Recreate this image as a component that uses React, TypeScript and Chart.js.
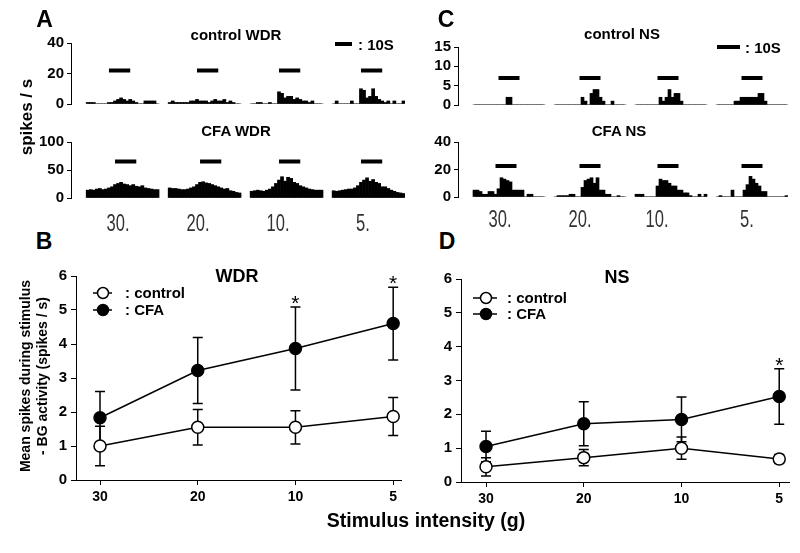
import React, { useEffect, useRef } from 'react';
import { Chart, registerables } from 'chart.js';

Chart.register(...registerables);

const FONT = "'Liberation Sans', Arial, Helvetica, sans-serif";

// ---------------- data ----------------
const intensities = ['30', '20', '10', '5'];
const stimulusLabels = ['30.', '20.', '10.', '5.'];

const HIST_LEAD = 5;
const HIST_GAP = 3;
const STIM_LEN = 7;

// peri-stimulus histograms (spikes / s), one array per stimulus intensity
const controlWdrHist = [
  [1, 1, 1, 0, 0, 0, 0, 1, 1, 2, 3, 4, 3, 2, 3, 2, 1, 0, 0, 2, 2, 2, 2, 0],
  [1, 2, 1, 1, 1, 1, 1, 2, 2, 3, 2, 2, 2, 1, 2, 3, 2, 2, 3, 1, 2, 1, 0, 0],
  [0, 0, 1, 1, 0, 0, 1, 0, 0, 8, 7, 4, 5, 5, 3, 4, 3, 2, 2, 1, 2, 0, 0, 0],
  [0, 2, 0, 0, 0, 0, 2, 0, 0, 10, 9, 4, 5, 10, 5, 3, 2, 1, 2, 0, 2, 0, 0, 2],
];
const cfaWdrHist = [
  [14, 15, 14, 16, 17, 15, 16, 18, 20, 24, 26, 28, 25, 24, 22, 24, 21, 20, 22, 18, 17, 16, 15, 15],
  [18, 17, 17, 16, 15, 15, 16, 18, 20, 24, 28, 29, 27, 26, 24, 22, 20, 18, 16, 17, 13, 12, 10, 9],
  [12, 13, 14, 13, 12, 14, 16, 20, 26, 32, 38, 30, 37, 35, 28, 26, 22, 20, 18, 16, 15, 14, 14, 14],
  [13, 12, 13, 14, 15, 16, 16, 18, 22, 28, 32, 36, 30, 33, 28, 26, 20, 20, 17, 14, 12, 10, 9, 8],
];
const controlNsHist = [
  [0, 0, 0, 0, 0, 0, 0, 0, 0, 0, 0, 2, 2, 0, 0, 0, 0, 0, 0, 0, 0, 0, 0, 0],
  [0, 0, 0, 0, 0, 0, 0, 0, 0, 2, 1, 0, 3, 4, 4, 2, 1, 0, 0, 1, 0, 0, 0, 0],
  [0, 0, 0, 0, 0, 0, 0, 0, 2, 1, 2, 4, 2, 3, 3, 1, 0, 0, 0, 0, 0, 0, 0, 0],
  [0, 0, 0, 0, 0, 0, 1, 1, 2, 2, 2, 2, 2, 2, 3, 3, 1, 0, 0, 0, 0, 0, 0, 0],
];
const cfaNsHist = [
  [5, 5, 4, 2, 2, 4, 4, 2, 6, 14, 13, 12, 11, 5, 5, 5, 5, 0, 2, 2, 0, 0, 0, 0],
  [0, 1, 1, 1, 1, 2, 2, 0, 0, 7, 12, 13, 14, 10, 14, 5, 5, 2, 2, 0, 0, 1, 0, 0],
  [2, 2, 2, 0, 0, 0, 0, 8, 13, 12, 12, 10, 8, 8, 5, 5, 3, 3, 1, 0, 0, 2, 0, 2],
  [0, 1, 0, 0, 0, 5, 0, 0, 0, 5, 9, 15, 13, 10, 8, 4, 4, 0, 0, 0, 0, 0, 0, 1],
];

// stimulus onset bin within each sweep, and the level where the stimulus bar is drawn
const controlWdrStimOnset = [7, 9, 9, 9];
const cfaWdrStimOnset = [9, 10, 9, 9];
const controlNsStimOnset = [8, 8, 7, 8];
const cfaNsStimOnset = [7, 8, 7, 8];
const controlWdrStimLevel = 22;
const cfaWdrStimLevel = 65;
const controlNsStimLevel = 7;
const cfaNsStimLevel = 22.5;

// mean spikes during stimulus - BG activity (spikes / s)
const wdrControlMean = [1.0, 1.55, 1.55, 1.87];
const wdrControlSem = [0.58, 0.52, 0.49, 0.56];
const wdrCfaMean = [1.83, 3.22, 3.87, 4.6];
const wdrCfaSem = [0.77, 0.97, 1.22, 1.07];
const wdrSignificant = [false, false, true, true];

const nsControlMean = [0.45, 0.72, 1.0, 0.68];
const nsControlSem = [0.27, 0.24, 0.33, 0.13];
const nsCfaMean = [1.05, 1.72, 1.85, 2.53];
const nsCfaSem = [0.45, 0.65, 0.66, 0.82];
const nsSignificant = [false, false, false, true];

// ---------------- layout helpers ----------------
type Area = { l: number; t: number; r: number; b: number };
const PAD = { top: 14, right: 10, bottom: 10, left: 0 };

function ChartBox({ area, yw, xh, make }: { area: Area; yw: number; xh: number; make: () => any }) {
  const ref = useRef<HTMLCanvasElement | null>(null);
  const left = area.l - yw - PAD.left;
  const top = area.t - PAD.top;
  const width = area.r + PAD.right - left;
  const height = area.b + xh + PAD.bottom - top;
  useEffect(() => {
    if (!ref.current) return;
    const chart = new Chart(ref.current, make());
    return () => chart.destroy();
  }, []);
  return (
    <canvas
      ref={ref}
      width={width}
      height={height}
      style={{ position: 'absolute', left, top, width, height }}
    />
  );
}

function histConfig(
  groups: number[][],
  stimOnset: number[],
  stimLevel: number,
  yMax: number,
  yStep: number,
  yw: number
) {
  const bars: (number | null)[] = [];
  const base: (number | null)[] = [];
  const stim: (number | null)[] = [];
  const pushEmpty = (n: number) => {
    for (let i = 0; i < n; i++) {
      bars.push(null);
      base.push(null);
      stim.push(null);
    }
  };
  pushEmpty(HIST_LEAD);
  groups.forEach((g, gi) => {
    if (gi > 0) pushEmpty(HIST_GAP);
    g.forEach((v, j) => {
      bars.push(v);
      base.push(0);
      stim.push(j >= stimOnset[gi] && j <= stimOnset[gi] + STIM_LEN ? stimLevel : null);
    });
  });
  return {
    type: 'bar',
    data: {
      labels: bars.map((_, i) => String(i)),
      datasets: [
        {
          type: 'bar',
          data: bars,
          backgroundColor: '#000',
          borderWidth: 0,
          categoryPercentage: 1,
          barPercentage: 1,
        },
        {
          type: 'line',
          data: base,
          borderColor: '#777',
          borderWidth: 1,
          pointRadius: 0,
          spanGaps: false,
        },
        {
          type: 'line',
          data: stim,
          borderColor: '#000',
          borderWidth: 4,
          pointRadius: 0,
          spanGaps: false,
          borderCapStyle: 'butt',
        },
      ],
    },
    options: {
      animation: false,
      responsive: false,
      maintainAspectRatio: false,
      devicePixelRatio: 1,
      events: [],
      layout: { padding: PAD },
      plugins: { legend: { display: false }, tooltip: { enabled: false } },
      scales: {
        x: { type: 'category', display: false, offset: true, grid: { display: false } },
        y: {
          min: 0,
          max: yMax,
          afterFit: (s: any) => {
            s.width = yw;
          },
          border: { display: true, color: '#000', width: 1 },
          grid: { drawOnChartArea: false, drawTicks: true, tickLength: 4, color: '#000' },
          ticks: {
            stepSize: yStep,
            autoSkip: false,
            color: '#000',
            padding: 3,
            font: { family: FONT, weight: 'bold', size: 15 },
          },
        },
      },
    },
  };
}

type LegendOpt = { dx: number; dy: number; gap: number; lineLen: number; cx: number; tx: number };

function lineConfig(
  ctlMean: number[],
  ctlSem: number[],
  cfaMean: number[],
  cfaSem: number[],
  sig: boolean[],
  xMin: number,
  xMax: number,
  legend: LegendOpt,
  yw: number,
  xh: number
) {
  const extras = {
    id: 'extras',
    beforeDatasetsDraw(chart: any) {
      const ctx = chart.ctx;
      const xs = chart.scales.x;
      const ys = chart.scales.y;
      ctx.save();
      ctx.strokeStyle = '#000';
      ctx.lineWidth = 1.5;
      const sets: [number[], number[]][] = [
        [ctlMean, ctlSem],
        [cfaMean, cfaSem],
      ];
      sets.forEach(([m, e]) => {
        m.forEach((v, i) => {
          const x = xs.getPixelForValue(i);
          const yT = ys.getPixelForValue(v + e[i]);
          const yB = ys.getPixelForValue(v - e[i]);
          ctx.beginPath();
          ctx.moveTo(x, yT);
          ctx.lineTo(x, yB);
          ctx.moveTo(x - 5, yT);
          ctx.lineTo(x + 5, yT);
          ctx.moveTo(x - 5, yB);
          ctx.lineTo(x + 5, yB);
          ctx.stroke();
        });
      });
      ctx.restore();
    },
    afterDraw(chart: any) {
      const ctx = chart.ctx;
      const xs = chart.scales.x;
      const ys = chart.scales.y;
      const ca = chart.chartArea;
      ctx.save();
      ctx.fillStyle = '#000';
      ctx.font = `21px ${FONT}`;
      ctx.textAlign = 'center';
      ctx.textBaseline = 'alphabetic';
      sig.forEach((s, i) => {
        if (!s) return;
        const x = xs.getPixelForValue(i);
        const y = ys.getPixelForValue(cfaMean[i] + cfaSem[i]);
        ctx.fillText('*', x, y + 3);
      });
      const rows = [
        { fill: '#fff', text: ': control' },
        { fill: '#000', text: ': CFA' },
      ];
      rows.forEach((r, k) => {
        const lx = ca.left + legend.dx;
        const ly = ca.top + legend.dy + k * legend.gap;
        ctx.strokeStyle = '#000';
        ctx.lineWidth = 1.5;
        ctx.beginPath();
        ctx.moveTo(lx, ly);
        ctx.lineTo(lx + legend.lineLen, ly);
        ctx.stroke();
        ctx.beginPath();
        ctx.arc(lx + legend.cx, ly, 5.5, 0, Math.PI * 2);
        ctx.fillStyle = r.fill;
        ctx.fill();
        ctx.stroke();
        ctx.fillStyle = '#000';
        ctx.font = `bold 15px ${FONT}`;
        ctx.textAlign = 'left';
        ctx.textBaseline = 'middle';
        ctx.fillText(r.text, lx + legend.tx, ly + 1);
      });
      ctx.restore();
    },
  };
  const ds = (m: number[], fill: string, label: string) => ({
    label,
    data: m.map((y, i) => ({ x: i, y })),
    borderColor: '#000',
    borderWidth: 1.5,
    pointRadius: 6,
    pointBorderWidth: 1.5,
    pointBackgroundColor: fill,
    pointBorderColor: '#000',
    fill: false,
    tension: 0,
  });
  return {
    type: 'line',
    data: { datasets: [ds(ctlMean, '#fff', 'control'), ds(cfaMean, '#000', 'CFA')] },
    plugins: [extras],
    options: {
      animation: false,
      responsive: false,
      maintainAspectRatio: false,
      devicePixelRatio: 1,
      events: [],
      layout: { padding: PAD },
      plugins: { legend: { display: false }, tooltip: { enabled: false } },
      scales: {
        x: {
          type: 'linear',
          min: xMin,
          max: xMax,
          afterBuildTicks: (s: any) => {
            s.ticks = intensities.map((_, i) => ({ value: i }));
          },
          afterFit: (s: any) => {
            s.height = xh;
          },
          border: { display: true, color: '#000', width: 1 },
          grid: { drawOnChartArea: false, drawTicks: true, tickLength: 5, color: '#000' },
          ticks: {
            autoSkip: false,
            maxRotation: 0,
            padding: 4,
            color: '#000',
            font: { family: FONT, weight: 'bold', size: 14 },
            callback: (v: any) => intensities[v] ?? '',
          },
        },
        y: {
          min: 0,
          max: 6,
          afterFit: (s: any) => {
            s.width = yw;
          },
          border: { display: true, color: '#000', width: 1 },
          grid: { drawOnChartArea: false, drawTicks: true, tickLength: 5, color: '#000' },
          ticks: {
            stepSize: 1,
            autoSkip: false,
            color: '#000',
            padding: 4,
            font: { family: FONT, weight: 'bold', size: 15 },
          },
        },
      },
    },
  };
}

function T({
  x,
  y,
  children,
  size = 14,
  weight = 'bold',
  family = FONT,
  rotate = 0,
  scaleX = 1,
  color = '#000',
  anchor = 'center',
  lineHeight = 1,
}: any) {
  const tx = anchor === 'left' ? '0' : '-50%';
  return (
    <div
      style={{
        position: 'absolute',
        left: x,
        top: y,
        transform: `translate(${tx},-50%) rotate(${rotate}deg) scaleX(${scaleX})`,
        fontSize: size,
        fontWeight: weight,
        fontFamily: family,
        color,
        whiteSpace: 'nowrap',
        lineHeight,
        textAlign: 'center',
      }}
    >
      {children}
    </div>
  );
}

const Bar = ({ x, y, w }: { x: number; y: number; w: number }) => (
  <div style={{ position: 'absolute', left: x, top: y - 2, width: w, height: 4, background: '#000' }} />
);

const YW = 45;

export default function App() {
  useEffect(() => {
    document.body.style.margin = '0';
  }, []);

  const aTop: Area = { l: 71, t: 43, r: 405, b: 106 };
  const aBot: Area = { l: 71, t: 142, r: 405, b: 200 };
  const cTop: Area = { l: 458, t: 47, r: 788, b: 107 };
  const cBot: Area = { l: 458, t: 142, r: 788, b: 199 };
  const bArea: Area = { l: 76, t: 276, r: 401, b: 480 };
  const dArea: Area = { l: 461, t: 279, r: 789, b: 482 };

  const stimAx = [118, 198, 278, 363];
  const stimCx = [500, 580, 657, 747];

  return (
    <div
      style={{
        position: 'relative',
        width: 800,
        height: 553,
        background: '#fff',
        overflow: 'hidden',
        fontFamily: FONT,
      }}
    >
      <ChartBox area={aTop} yw={YW} xh={0} make={() => histConfig(controlWdrHist, controlWdrStimOnset, controlWdrStimLevel, 40, 20, YW)} />
      <ChartBox area={aBot} yw={YW} xh={0} make={() => histConfig(cfaWdrHist, cfaWdrStimOnset, cfaWdrStimLevel, 100, 50, YW)} />
      <ChartBox area={cTop} yw={YW} xh={0} make={() => histConfig(controlNsHist, controlNsStimOnset, controlNsStimLevel, 15, 5, YW)} />
      <ChartBox area={cBot} yw={YW} xh={0} make={() => histConfig(cfaNsHist, cfaNsStimOnset, cfaNsStimLevel, 40, 20, YW)} />
      <ChartBox
        area={bArea}
        yw={YW}
        xh={30}
        make={() =>
          lineConfig(wdrControlMean, wdrControlSem, wdrCfaMean, wdrCfaSem, wdrSignificant, -0.2457, 3.08,
            { dx: 17, dy: 17, gap: 17, lineLen: 19, cx: 10, tx: 32 }, YW, 30)
        }
      />
      <ChartBox
        area={dArea}
        yw={YW}
        xh={30}
        make={() =>
          lineConfig(nsControlMean, nsControlSem, nsCfaMean, nsCfaSem, nsSignificant, -0.256, 3.1,
            { dx: 12, dy: 19, gap: 16, lineLen: 24, cx: 13, tx: 34 }, YW, 30)
        }
      />

      <T x={44.5} y={19} size={23}>A</T>
      <T x={446} y={19} size={23}>C</T>
      <T x={44} y={241} size={23}>B</T>
      <T x={447} y={241} size={23}>D</T>

      <T x={26} y={117} size={17} rotate={-90}>spikes / s</T>

      <T x={236} y={34} size={15}>control WDR</T>
      <T x={236} y={130} size={15}>CFA WDR</T>
      <T x={622} y={33} size={15}>control NS</T>
      <T x={619} y={130} size={15}>CFA NS</T>

      <Bar x={335} y={43.5} w={17} />
      <T x={358} y={44} anchor="left" size={15}>: 10S</T>
      <Bar x={717} y={46.5} w={23} />
      <T x={745} y={47} anchor="left" size={15}>: 10S</T>

      {stimulusLabels.map((s, i) => (
        <T key={'a' + i} x={stimAx[i]} y={223} size={23} weight="normal" scaleX={0.72} color="#333">{s}</T>
      ))}
      {stimulusLabels.map((s, i) => (
        <T key={'c' + i} x={stimCx[i]} y={219} size={23} weight="normal" scaleX={0.72} color="#333">{s}</T>
      ))}

      <T x={237} y={276} size={18}>WDR</T>
      <T x={617} y={277} size={18}>NS</T>

      <T x={33} y={376} size={14} rotate={-90} lineHeight="16.5px">
        Mean spikes during stimulus
        <br />- BG activity (spikes / s)
      </T>

      <T x={426} y={521} size={19.5}>Stimulus intensity (g)</T>
    </div>
  );
}
